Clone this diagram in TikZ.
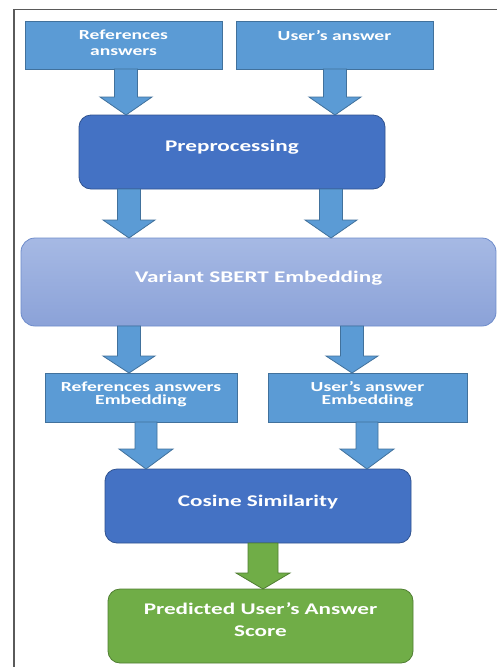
\documentclass[tikz,border=0pt]{standalone}
\usepackage{fontspec}
\newfontfamily\cfb{Carlito Bold}[FakeStretch=1.42]
\usetikzlibrary{calc}
\definecolor{lblue}{HTML}{5B9BD5}
\definecolor{lbord}{HTML}{41719C}
\definecolor{dblue}{HTML}{4472C4}
\definecolor{dbord}{HTML}{2F528F}
\definecolor{svtop}{HTML}{A6B9E4}
\definecolor{svbot}{HTML}{8BA2D8}
\definecolor{svbord}{HTML}{6E8CCB}
\definecolor{gfill}{HTML}{70AD47}
\definecolor{gbord}{HTML}{507E32}
\definecolor{framecol}{HTML}{5A5A5A}
% box text: width, height, first baseline from top, text
\newcommand\btext[4]{\parbox[c][#2][t]{#1}{\centering\vspace*{\dimexpr#3-14pt\relax}\rule{0pt}{14pt}#4\par}}
% block arrow: style, start, end, shaft half width, head half width, head length
\newcommand\barrow[6]{%
  \draw[#1] let \p1=(#2), \p2=(#3) in
   (\x1-#4,\y1) -- (\x1-#4,\y2+#6) -- (\x1-#5,\y2+#6) -- (\x1,\y2)
   -- (\x1+#5,\y2+#6) -- (\x1+#4,\y2+#6) -- (\x1+#4,\y1) -- cycle;}
\tikzset{
  boxbase/.style={inner sep=0pt, outer sep=0pt, text=white, line width=0.8pt},
  sqbox/.style={boxbase, fill=lblue, draw=lbord},
  rbox/.style={boxbase, fill=dblue, draw=dbord, rounded corners=12pt},
  sbox/.style={boxbase, top color=svtop, bottom color=svbot, draw=svbord, rounded corners=14pt},
  gbox/.style={boxbase, fill=gfill, draw=gbord, rounded corners=12pt},
  small/.style={font={\cfb\fontsize{13.8}{16.7}\selectfont}},
  smalltight/.style={font={\cfb\fontsize{13.8}{13}\selectfont}},
  big/.style={font={\cfb\fontsize{16.3}{22.5}\selectfont}},
  barrow/.style={fill=lblue, draw=lbord, line width=0.8pt},
  garrow/.style={fill=gfill, draw=gbord, line width=0.8pt},
}
\begin{document}
\begin{tikzpicture}[x=1pt, y=-1pt]
\useasboundingbox (0,0) rectangle (497,667);
\fill[white] (0,0) rectangle (497,667);
% frame
\coordinate (fb) at (14,667);
\coordinate (fc) at (14,9.5);
\coordinate (fr) at (497,9.5);
\draw[framecol, line width=1.2pt] (fb) -- (fc) -- (fr);
% boxes
\node[sqbox, small] (ref) at (123.5,45) {\btext{197pt}{48pt}{18pt}{References\\answers}};
\node[sqbox, small] (user) at (334.5,45) {\btext{197pt}{48pt}{19pt}{User’s answer}};
\node[rbox, big] (pre) at (232,152) {\btext{306pt}{74pt}{36pt}{Preprocessing}};
\node[sbox, big] (sbert) at (258.5,282) {\btext{475pt}{88pt}{44pt}{Variant SBERT Embedding}};
\node[sqbox, smalltight] (refemb) at (141,397.5) {\btext{192pt}{49pt}{18pt}{References answers\\Embedding}};
\node[sqbox, smalltight] (useremb) at (367.5,397.5) {\btext{199pt}{49pt}{18pt}{User’s answer\\Embedding}};
\node[rbox, big] (cos) at (258,506) {\btext{306pt}{74pt}{37pt}{Cosine Similarity}};
\node[gbox, big] (pred) at (260.5,626) {\btext{305pt}{74pt}{25pt}{Predicted User’s Answer\\Score}};
% arrows
\barrow{barrow}{$(ref.south)+(2.5,0)$}{pre.north}{11.5pt}{26pt}{18pt}
\barrow{barrow}{$(user.south)+(0.5,0)$}{pre.north}{11.5pt}{26pt}{18pt}
\barrow{barrow}{$(pre.south)+(-103,0)$}{sbert.north}{11.5pt}{26pt}{18pt}
\barrow{barrow}{$(pre.south)+(99,0)$}{sbert.north}{11.5pt}{26pt}{18pt}
\barrow{barrow}{$(sbert.south)+(-129.5,0)$}{refemb.north}{11.5pt}{26pt}{17pt}
\barrow{barrow}{$(sbert.south)+(93.5,0)$}{useremb.north}{11.5pt}{26pt}{17pt}
\barrow{barrow}{$(refemb.south)+(5,0)$}{cos.north}{11pt}{27pt}{20pt}
\barrow{barrow}{$(useremb.south)+(-0.5,0)$}{cos.north}{11pt}{27pt}{20pt}
\barrow{garrow}{$(cos.south)+(5,0)$}{pred.north}{15pt}{27pt}{16pt}
\end{tikzpicture}
\end{document}
